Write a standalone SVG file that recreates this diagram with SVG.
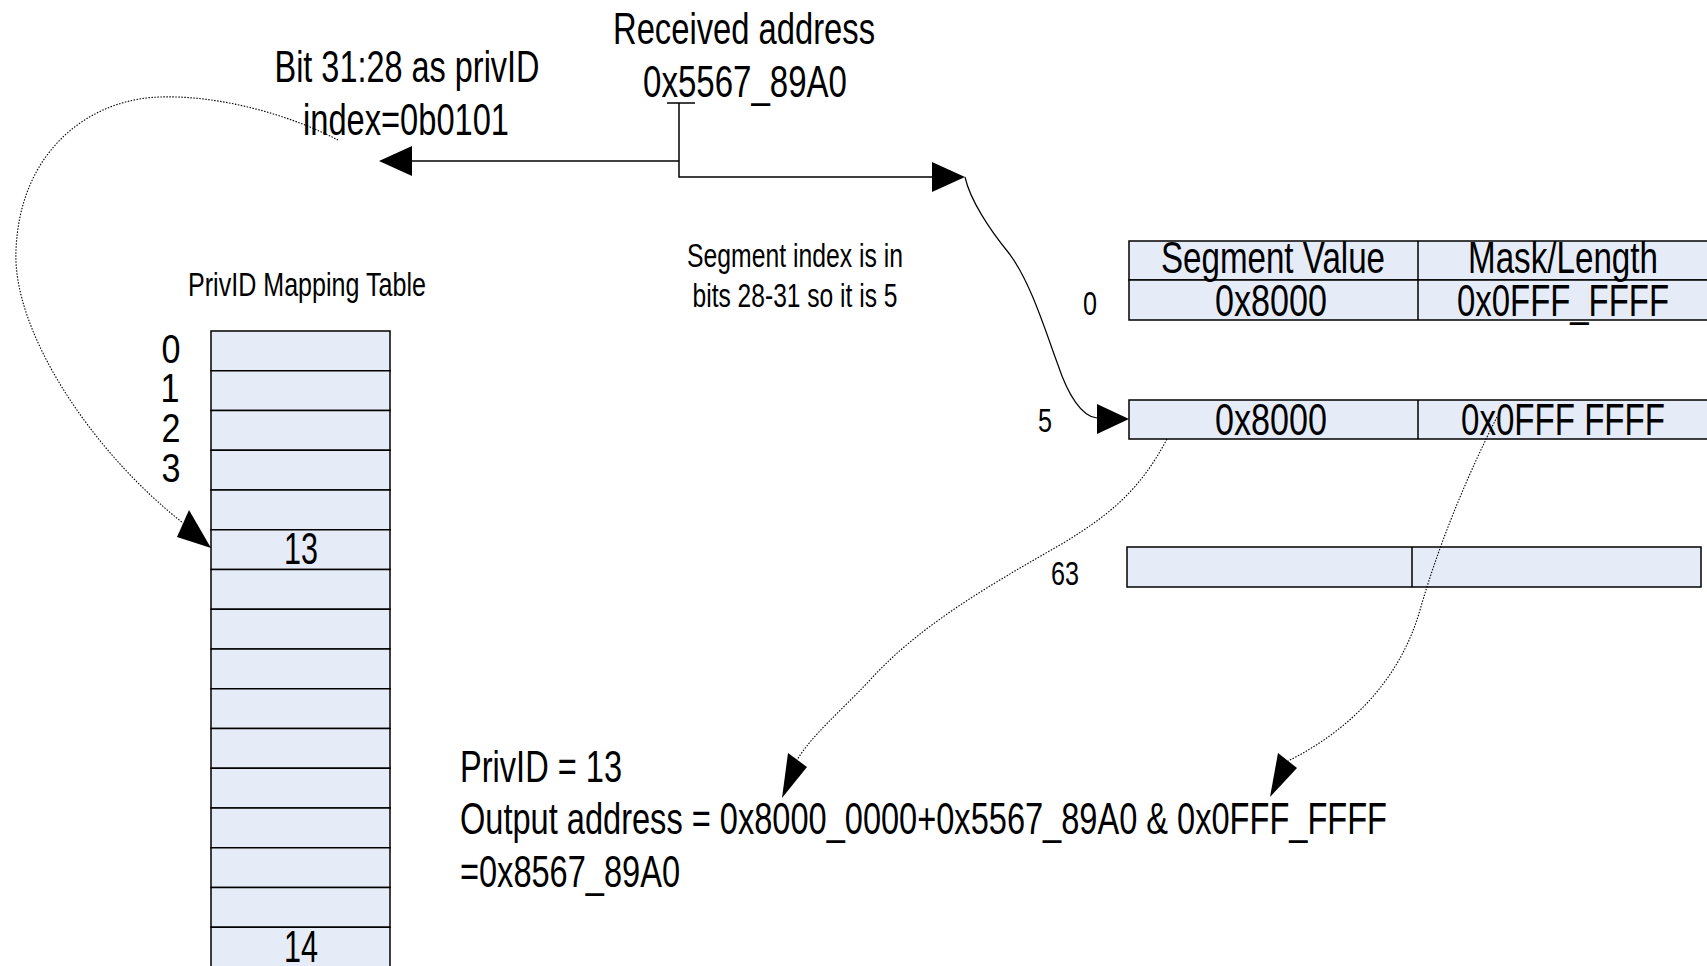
<svg xmlns="http://www.w3.org/2000/svg" width="1707" height="966" viewBox="0 0 1707 966">
<style>
text{font-family:"Liberation Sans",Arial,sans-serif;fill:#000}
.big{font-size:44px}
.sm{font-size:33px}
.lbl{font-size:40px}
.mid{text-anchor:middle}
.cell{fill:#E6ECF7;stroke:#000;stroke-width:1.5}
.div{stroke:#000;stroke-width:1.5}
.ln{fill:none;stroke:#000;stroke-width:1.5}
.curve{fill:none;stroke:#000;stroke-width:1.2}
.dot{fill:none;stroke:#000;stroke-width:1.1;stroke-dasharray:1.5 1.5}
.head{fill:#000;stroke:none}
</style>
<rect width="1707" height="966" fill="#fff"/>

<g id="received-address">
<text class="big mid" x="744" y="44" textLength="262" lengthAdjust="spacingAndGlyphs">Received address</text>
<text class="big mid" x="745" y="97" textLength="204" lengthAdjust="spacingAndGlyphs">0x5567_89A0</text>
</g>

<g id="privid-bits">
<text class="big mid" x="407" y="82" textLength="265" lengthAdjust="spacingAndGlyphs">Bit 31:28 as privID</text>
<text class="big mid" x="406" y="135" textLength="206" lengthAdjust="spacingAndGlyphs">index=0b0101</text>
</g>

<g id="segment-note">
<text class="sm mid" x="795" y="267" textLength="216" lengthAdjust="spacingAndGlyphs">Segment index is in</text>
<text class="sm mid" x="795" y="307" textLength="205" lengthAdjust="spacingAndGlyphs">bits 28-31 so it is 5</text>
</g>

<g id="privid-table">
<text class="sm mid" x="307" y="296" textLength="238" lengthAdjust="spacingAndGlyphs">PrivID Mapping Table</text>
<rect class="cell" x="211" y="331" width="179" height="39.75"/>
<rect class="cell" x="211" y="370.75" width="179" height="39.75"/>
<rect class="cell" x="211" y="410.5" width="179" height="39.75"/>
<rect class="cell" x="211" y="450.25" width="179" height="39.75"/>
<rect class="cell" x="211" y="490" width="179" height="39.75"/>
<rect class="cell" x="211" y="529.75" width="179" height="39.75"/>
<rect class="cell" x="211" y="569.5" width="179" height="39.75"/>
<rect class="cell" x="211" y="609.25" width="179" height="39.75"/>
<rect class="cell" x="211" y="649" width="179" height="39.75"/>
<rect class="cell" x="211" y="688.75" width="179" height="39.75"/>
<rect class="cell" x="211" y="728.5" width="179" height="39.75"/>
<rect class="cell" x="211" y="768.25" width="179" height="39.75"/>
<rect class="cell" x="211" y="808" width="179" height="39.75"/>
<rect class="cell" x="211" y="847.75" width="179" height="39.75"/>
<rect class="cell" x="211" y="887.5" width="179" height="39.75"/>
<rect class="cell" x="211" y="927.25" width="179" height="45"/>
<text class="big mid" x="301" y="564" textLength="34" lengthAdjust="spacingAndGlyphs">13</text>
<text class="big mid" x="301" y="962" textLength="34" lengthAdjust="spacingAndGlyphs">14</text>
<text class="lbl mid" x="171" y="363" textLength="19" lengthAdjust="spacingAndGlyphs">0</text>
<text class="lbl mid" x="170" y="402" textLength="19" lengthAdjust="spacingAndGlyphs">1</text>
<text class="lbl mid" x="171" y="442" textLength="19" lengthAdjust="spacingAndGlyphs">2</text>
<text class="lbl mid" x="171" y="482" textLength="19" lengthAdjust="spacingAndGlyphs">3</text>
</g>

<g id="segment-table">
<rect class="cell" x="1129" y="241" width="590" height="39"/>
<rect class="cell" x="1129" y="280" width="590" height="40"/>
<line class="div" x1="1418" y1="241" x2="1418" y2="320"/>
<text class="big mid" x="1273" y="273" textLength="224" lengthAdjust="spacingAndGlyphs">Segment Value</text>
<text class="big mid" x="1563" y="273" textLength="190" lengthAdjust="spacingAndGlyphs">Mask/Length</text>
<text class="big mid" x="1271" y="316" textLength="112" lengthAdjust="spacingAndGlyphs">0x8000</text>
<text class="big mid" x="1563" y="316" textLength="212" lengthAdjust="spacingAndGlyphs">0x0FFF_FFFF</text>
<text class="sm mid" x="1090" y="315" textLength="14" lengthAdjust="spacingAndGlyphs">0</text>

<rect class="cell" x="1129" y="400" width="590" height="39"/>
<line class="div" x1="1418" y1="400" x2="1418" y2="439"/>
<text class="big mid" x="1271" y="435" textLength="112" lengthAdjust="spacingAndGlyphs">0x8000</text>
<text class="big mid" x="1563" y="435" textLength="204" lengthAdjust="spacingAndGlyphs">0x0FFF FFFF</text>
<text class="sm mid" x="1045" y="432" textLength="14" lengthAdjust="spacingAndGlyphs">5</text>

<rect class="cell" x="1127" y="547" width="574" height="40"/>
<line class="div" x1="1412" y1="547" x2="1412" y2="587"/>
<text class="sm mid" x="1065" y="585" textLength="28" lengthAdjust="spacingAndGlyphs">63</text>
</g>

<g id="result">
<text class="big" x="460" y="782" textLength="162" lengthAdjust="spacingAndGlyphs">PrivID = 13</text>
<text class="big" x="460" y="834" textLength="927" lengthAdjust="spacingAndGlyphs">Output address = 0x8000_0000+0x5567_89A0 &amp; 0x0FFF_FFFF</text>
<text class="big" x="460" y="887" textLength="220" lengthAdjust="spacingAndGlyphs">=0x8567_89A0</text>
</g>

<g id="connectors">
<line class="ln" x1="667" y1="103" x2="695" y2="103"/>
<polyline class="ln" points="412,161 679,161"/>
<polyline class="ln" points="679,103 679,177 932,177"/>
<polygon class="head" points="379,161 412,146 412,176"/>
<polygon class="head" points="965,177 932,162 932,192"/>

<path class="curve" d="M965,177 C970,200 990,230 1008,252 C1030,280 1045,330 1058,365 C1068,395 1082,417 1097,418"/>
<polygon class="head" points="1129,419 1097,404 1097,434"/>

<path class="dot" d="M338,140 C290,115 220,95 160,97 C90,99 20,150 16,250 C12,330 90,450 183,523"/>
<polygon class="head" points="211,548 189,510 177,537"/>

<path class="dot" d="M1167,439 C1140,490 1110,515 1060,545 C990,585 920,625 870,680 C840,712 812,735 797,760"/>
<polygon class="head" points="782,798 788,753 807,767"/>

<path class="dot" d="M1497,417 C1470,470 1440,540 1420,610 C1400,680 1350,730 1288,761"/>
<polygon class="head" points="1270,797 1278,753 1297,768"/>
</g>
</svg>
